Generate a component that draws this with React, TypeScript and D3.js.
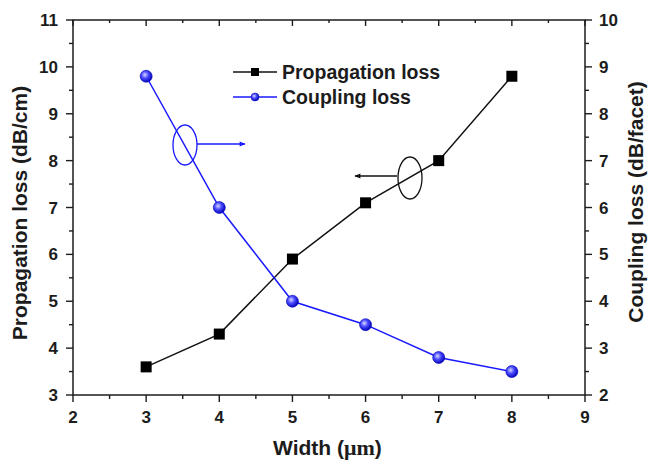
import React from "react";
import * as d3 from "d3";

const widths = [3, 4, 5, 6, 7, 8];
const propagationLoss = [3.6, 4.3, 5.9, 7.1, 8.0, 9.8];
const couplingLoss = [8.8, 6.0, 4.0, 3.5, 2.8, 2.5];
const xTicks = [2, 3, 4, 5, 6, 7, 8, 9];
const leftTicks = [3, 4, 5, 6, 7, 8, 9, 10, 11];
const rightTicks = [2, 3, 4, 5, 6, 7, 8, 9, 10];

const W = 649, H = 465;
const L = 73, R = 585, T = 20, B = 395;
const SANS = "Arial, 'Liberation Sans', Helvetica, sans-serif";
const SERIF = "'Times New Roman', 'Liberation Serif', serif";
const BLUE = "#1a1aff";
const INK = "#1c1c1c";

export default function App() {
  const x = d3.scaleLinear().domain([2, 9]).range([L, R]);
  const yL = d3.scaleLinear().domain([3, 11]).range([B, T]);
  const yR = d3.scaleLinear().domain([2, 10]).range([B, T]);
  const lineL = d3.line<number>().x((_, i) => x(widths[i])).y((d) => yL(d));
  const lineR = d3.line<number>().x((_, i) => x(widths[i])).y((d) => yR(d));
  const xMinor = d3.range(2.5, 9, 1);
  const lMinor = d3.range(3.5, 11, 1);
  const rMinor = d3.range(2.5, 10, 1);
  const tickStyle = { stroke: INK, strokeWidth: 1.4 };

  return (
    <svg width={W} height={H} style={{ position: "absolute", left: 0, top: 0, background: "#fff" }}>
      <defs>
        <radialGradient id="ball" cx="0.4" cy="0.38" r="0.65">
          <stop offset="0" stopColor="#d8d8ff" />
          <stop offset="0.45" stopColor="#4a4aff" />
          <stop offset="1" stopColor="#0000b0" />
        </radialGradient>
        <marker id="arrB" viewBox="0 0 10 10" refX="9" refY="5" markerWidth="10" markerHeight="6" orient="auto" markerUnits="userSpaceOnUse">
          <path d="M0,1 L10,5 L0,9 Z" fill={BLUE} />
        </marker>
        <marker id="arrK" viewBox="0 0 10 10" refX="9" refY="5" markerWidth="10" markerHeight="6" orient="auto" markerUnits="userSpaceOnUse">
          <path d="M0,1 L10,5 L0,9 Z" fill="#111" />
        </marker>
      </defs>

      {/* frame */}
      <rect x={L} y={T} width={R - L} height={B - T} fill="none" stroke={INK} strokeWidth={1.5} />

      {/* bottom ticks (outward) */}
      {xTicks.map((t) => (
        <line key={"xb" + t} x1={x(t)} x2={x(t)} y1={B} y2={B + 7} {...tickStyle} />
      ))}
      {xMinor.map((t) => (
        <line key={"xbm" + t} x1={x(t)} x2={x(t)} y1={B} y2={B + 4} {...tickStyle} />
      ))}
      {/* top ticks (inward) */}
      {xTicks.map((t) => (
        <line key={"xt" + t} x1={x(t)} x2={x(t)} y1={T} y2={T + 6} {...tickStyle} />
      ))}
      {xMinor.map((t) => (
        <line key={"xtm" + t} x1={x(t)} x2={x(t)} y1={T} y2={T + 3} {...tickStyle} />
      ))}
      {xTicks.map((t) => (
        <text key={"xl" + t} x={x(t)} y={B + 28} textAnchor="middle" fontFamily={SANS} fontWeight="bold" fontSize={17} fill={INK}>
          {t}
        </text>
      ))}

      {/* left axis */}
      {leftTicks.map((t) => (
        <line key={"yl" + t} x1={L - 7} x2={L} y1={yL(t)} y2={yL(t)} {...tickStyle} />
      ))}
      {lMinor.map((t) => (
        <line key={"ylm" + t} x1={L - 4} x2={L} y1={yL(t)} y2={yL(t)} {...tickStyle} />
      ))}
      {leftTicks.map((t) => (
        <text key={"yll" + t} x={L - 15} y={yL(t) + 6} textAnchor="end" fontFamily={SANS} fontWeight="bold" fontSize={17} fill={INK}>
          {t}
        </text>
      ))}

      {/* right axis */}
      {rightTicks.map((t) => (
        <line key={"yr" + t} x1={R} x2={R + 7} y1={yR(t)} y2={yR(t)} {...tickStyle} />
      ))}
      {rMinor.map((t) => (
        <line key={"yrm" + t} x1={R} x2={R + 4} y1={yR(t)} y2={yR(t)} {...tickStyle} />
      ))}
      {rightTicks.map((t) => (
        <text key={"yrl" + t} x={R + 14} y={yR(t) + 6} textAnchor="start" fontFamily={SANS} fontWeight="bold" fontSize={17} fill={INK}>
          {t}
        </text>
      ))}

      {/* axis titles */}
      <text x={273} y={455} textAnchor="start" fontWeight="bold" fontSize={21} fill={INK}>
        <tspan fontFamily={SANS}>Width (</tspan>
        <tspan fontFamily={SERIF} fontSize={22}>μm</tspan>
        <tspan fontFamily={SANS}>)</tspan>
      </text>
      <text transform={`translate(27, 213) rotate(-90)`} textAnchor="middle" fontFamily={SANS} fontWeight="bold" fontSize={21} fill={INK}>
        Propagation loss (dB/cm)
      </text>
      <text transform={`translate(643, 202) rotate(-90)`} textAnchor="middle" fontFamily={SANS} fontWeight="bold" fontSize={21} fill={INK}>
        Coupling loss (dB/facet)
      </text>

      {/* series */}
      <path d={lineL(propagationLoss) || ""} fill="none" stroke="#111" strokeWidth={1.5} />
      <path d={lineR(couplingLoss) || ""} fill="none" stroke={BLUE} strokeWidth={1.5} />
      {propagationLoss.map((v, i) => (
        <rect key={"p" + i} x={x(widths[i]) - 5.5} y={yL(v) - 5.5} width={11} height={11} fill="#000" />
      ))}
      {couplingLoss.map((v, i) => (
        <circle key={"c" + i} cx={x(widths[i])} cy={yR(v)} r={6} fill="url(#ball)" stroke="#0000c0" strokeWidth={0.6} />
      ))}

      {/* annotations */}
      <ellipse cx={185} cy={145} rx={12} ry={20} fill="none" stroke={BLUE} strokeWidth={1.3} />
      <line x1={197} y1={144} x2={245} y2={144} stroke={BLUE} strokeWidth={1.3} markerEnd="url(#arrB)" />
      <ellipse cx={410} cy={178} rx={12} ry={21} fill="none" stroke="#111" strokeWidth={1.3} />
      <line x1={397} y1={176} x2={355} y2={176} stroke="#111" strokeWidth={1.3} markerEnd="url(#arrK)" />

      {/* legend */}
      <line x1={233} x2={277} y1={72} y2={72} stroke="#111" strokeWidth={1.5} />
      <rect x={251} y={68} width={8} height={8} fill="#000" />
      <text x={282} y={79} fontFamily={SANS} fontWeight="bold" fontSize={19.5} fill={INK}>
        Propagation loss
      </text>
      <line x1={233} x2={277} y1={97} y2={97} stroke={BLUE} strokeWidth={1.5} />
      <circle cx={255} cy={97} r={4} fill="url(#ball)" stroke="#0000c0" strokeWidth={0.5} />
      <text x={282} y={104} fontFamily={SANS} fontWeight="bold" fontSize={19.5} fill={INK}>
        Coupling loss
      </text>
    </svg>
  );
}
